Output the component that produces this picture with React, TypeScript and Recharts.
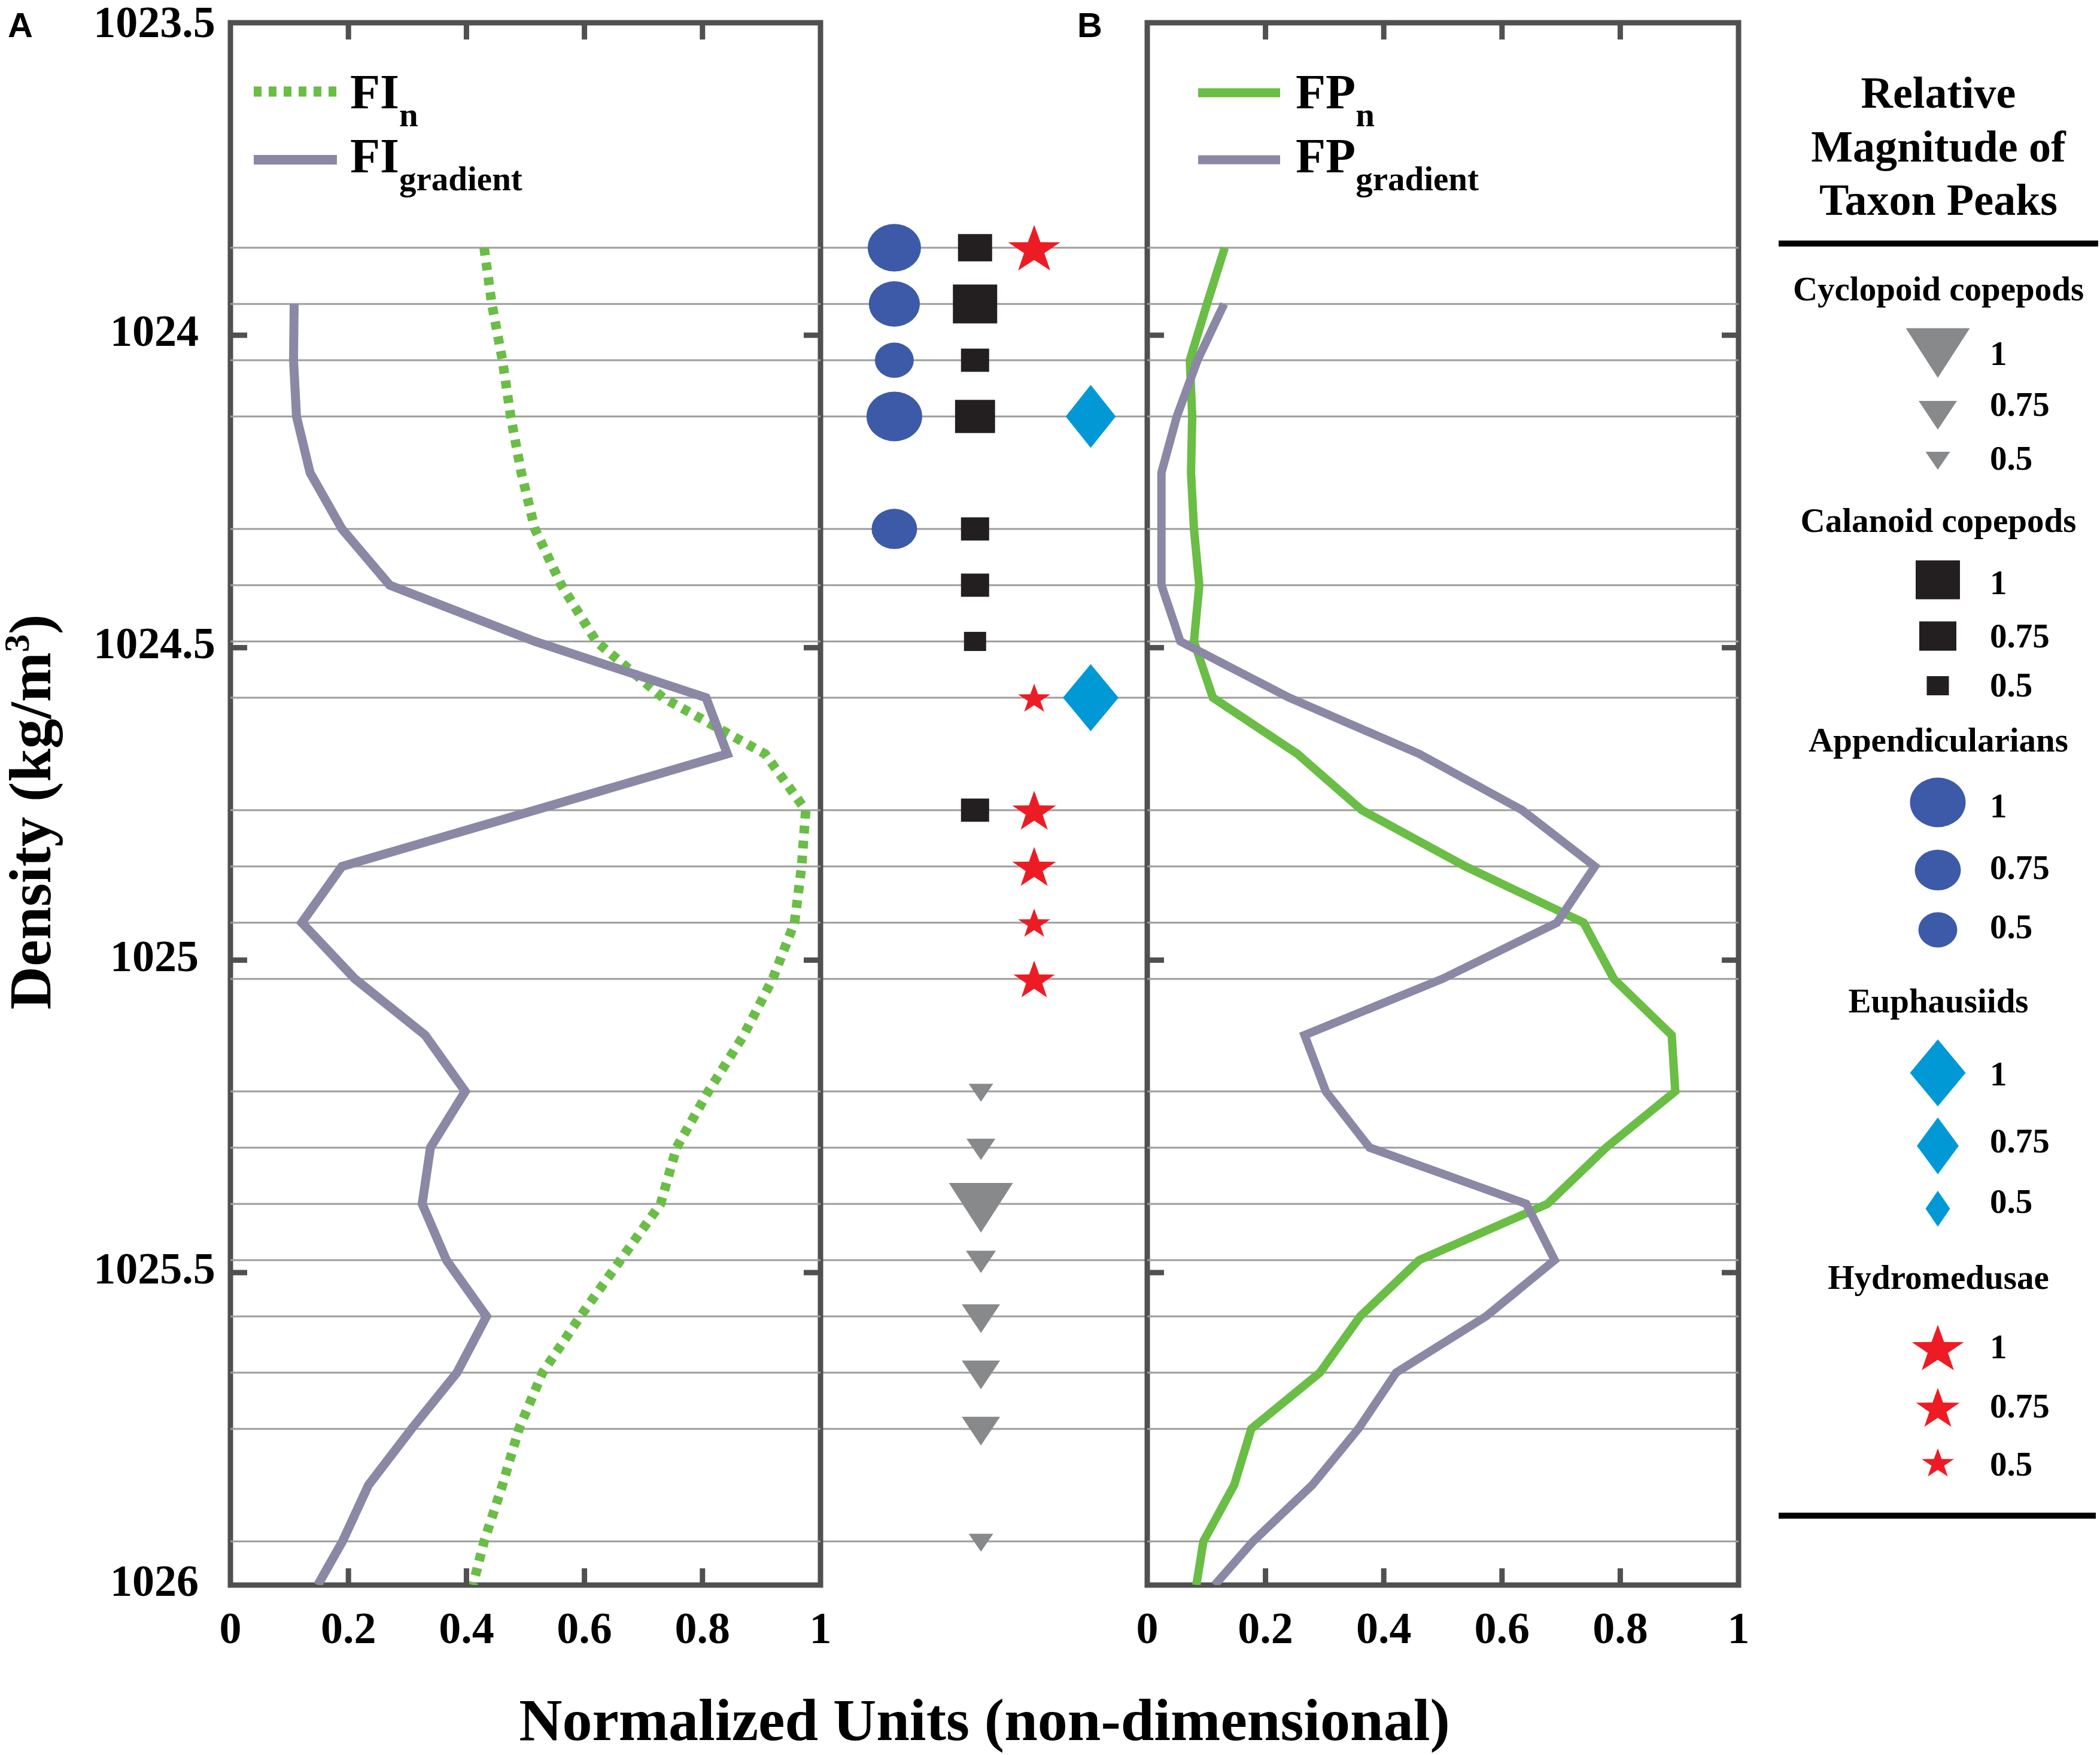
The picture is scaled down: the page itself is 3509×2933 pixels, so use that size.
import React from 'react';
import { ScatterChart, Scatter, XAxis, YAxis, ReferenceLine, ReferenceArea } from 'recharts';

// ---- data ----
const X_TICKS = [0, 0.2, 0.4, 0.6, 0.8, 1];
const Y_TICKS = [1023.5, 1024, 1024.5, 1025, 1025.5, 1026];
const Y_DOMAIN = [1023.5, 1026];
const LEGEND_MAGNITUDES = [1, 0.75, 0.5];

const FI_N = [
  { density: 1023.86, value: 0.43 }, { density: 1023.95, value: 0.443 }, { density: 1024.04, value: 0.461 },
  { density: 1024.13, value: 0.475 }, { density: 1024.22, value: 0.493 }, { density: 1024.31, value: 0.516 },
  { density: 1024.4, value: 0.561 }, { density: 1024.49, value: 0.62 }, { density: 1024.58, value: 0.733 },
  { density: 1024.67, value: 0.906 }, { density: 1024.76, value: 0.975 }, { density: 1024.85, value: 0.968 },
  { density: 1024.94, value: 0.956 }, { density: 1025.03, value: 0.919 }, { density: 1025.12, value: 0.87 },
  { density: 1025.21, value: 0.81 }, { density: 1025.3, value: 0.756 }, { density: 1025.39, value: 0.729 },
  { density: 1025.48, value: 0.661 }, { density: 1025.57, value: 0.593 }, { density: 1025.66, value: 0.529 },
  { density: 1025.75, value: 0.489 }, { density: 1025.84, value: 0.461 }, { density: 1025.93, value: 0.43 },
  { density: 1026.0, value: 0.411 },
];

const FI_GRADIENT = [
  { density: 1023.95, value: 0.108 }, { density: 1024.04, value: 0.107 }, { density: 1024.13, value: 0.112 },
  { density: 1024.22, value: 0.135 }, { density: 1024.31, value: 0.189 }, { density: 1024.4, value: 0.27 },
  { density: 1024.49, value: 0.516 }, { density: 1024.58, value: 0.806 }, { density: 1024.67, value: 0.842 },
  { density: 1024.76, value: 0.516 }, { density: 1024.85, value: 0.189 }, { density: 1024.94, value: 0.121 },
  { density: 1025.03, value: 0.211 }, { density: 1025.12, value: 0.33 }, { density: 1025.21, value: 0.398 },
  { density: 1025.3, value: 0.339 }, { density: 1025.39, value: 0.325 }, { density: 1025.48, value: 0.366 },
  { density: 1025.57, value: 0.434 }, { density: 1025.66, value: 0.384 }, { density: 1025.75, value: 0.307 },
  { density: 1025.84, value: 0.234 }, { density: 1025.93, value: 0.19 }, { density: 1026.0, value: 0.148 },
];

const FP_N = [
  { density: 1023.86, value: 0.131 }, { density: 1023.95, value: 0.101 }, { density: 1024.04, value: 0.072 },
  { density: 1024.13, value: 0.076 }, { density: 1024.22, value: 0.074 }, { density: 1024.31, value: 0.079 },
  { density: 1024.4, value: 0.088 }, { density: 1024.49, value: 0.079 }, { density: 1024.58, value: 0.111 },
  { density: 1024.67, value: 0.254 }, { density: 1024.76, value: 0.363 }, { density: 1024.85, value: 0.538 },
  { density: 1024.94, value: 0.738 }, { density: 1025.03, value: 0.789 }, { density: 1025.12, value: 0.887 },
  { density: 1025.21, value: 0.893 }, { density: 1025.3, value: 0.776 }, { density: 1025.39, value: 0.677 },
  { density: 1025.48, value: 0.46 }, { density: 1025.57, value: 0.36 }, { density: 1025.66, value: 0.292 },
  { density: 1025.75, value: 0.176 }, { density: 1025.84, value: 0.147 }, { density: 1025.93, value: 0.095 },
  { density: 1026.0, value: 0.083 },
];

const FP_GRADIENT = [
  { density: 1023.95, value: 0.13 }, { density: 1024.04, value: 0.085 }, { density: 1024.13, value: 0.05 },
  { density: 1024.22, value: 0.024 }, { density: 1024.31, value: 0.024 }, { density: 1024.4, value: 0.024 },
  { density: 1024.49, value: 0.056 }, { density: 1024.58, value: 0.24 }, { density: 1024.67, value: 0.46 },
  { density: 1024.76, value: 0.634 }, { density: 1024.85, value: 0.757 }, { density: 1024.94, value: 0.693 },
  { density: 1025.03, value: 0.499 }, { density: 1025.12, value: 0.266 }, { density: 1025.21, value: 0.302 },
  { density: 1025.3, value: 0.376 }, { density: 1025.39, value: 0.641 }, { density: 1025.48, value: 0.689 },
  { density: 1025.57, value: 0.573 }, { density: 1025.66, value: 0.421 }, { density: 1025.75, value: 0.357 },
  { density: 1025.84, value: 0.279 }, { density: 1025.93, value: 0.179 }, { density: 1026.0, value: 0.114 },
];

// taxon peaks: density and relative magnitude
const CYCLOPOID_PEAKS = [
  { density: 1025.21, magnitude: 0.5 }, { density: 1025.3, magnitude: 0.58 }, { density: 1025.39, magnitude: 1 },
  { density: 1025.48, magnitude: 0.6 }, { density: 1025.57, magnitude: 0.75 }, { density: 1025.66, magnitude: 0.75 },
  { density: 1025.75, magnitude: 0.75 }, { density: 1025.93, magnitude: 0.5 },
];
const CALANOID_PEAKS = [
  { density: 1023.86, magnitude: 0.7 }, { density: 1023.95, magnitude: 1 }, { density: 1024.04, magnitude: 0.6 },
  { density: 1024.13, magnitude: 0.85 }, { density: 1024.31, magnitude: 0.6 }, { density: 1024.4, magnitude: 0.6 },
  { density: 1024.49, magnitude: 0.5 }, { density: 1024.76, magnitude: 0.6 },
];
const APPENDICULARIAN_PEAKS = [
  { density: 1023.86, magnitude: 0.94 }, { density: 1023.95, magnitude: 0.88 }, { density: 1024.04, magnitude: 0.5 },
  { density: 1024.13, magnitude: 1 }, { density: 1024.31, magnitude: 0.73 },
];
const EUPHAUSIID_PEAKS = [
  { density: 1024.13, magnitude: 0.9 }, { density: 1024.58, magnitude: 1 },
];
const HYDROMEDUSAE_PEAKS = [
  { density: 1023.86, magnitude: 1 }, { density: 1024.58, magnitude: 0.5 }, { density: 1024.76, magnitude: 0.75 },
  { density: 1024.85, magnitude: 0.75 }, { density: 1024.94, magnitude: 0.5 }, { density: 1025.03, magnitude: 0.7 },
];

// ---- layout / style ----
const PAGE_W = 3509;
const PAGE_H = 2933;
const PLOT_TOP = 38;
const PLOT_BOTTOM = 2649;
const PANEL_A = { left: 385, right: 1371 };
const PANEL_B = { left: 1917, right: 2905 };
const X_AXIS_H = 100;
const Y_AXIS_W = 100;
const TICK_LEN = 28;
const FRAME = '#505050';
const GRID = '#9c9c9c';
const PURPLE = '#8b88a5';
const GREEN = '#6abd45';
const SERIF = "'Liberation Serif', 'Times New Roman', serif";
const SANS = "'Liberation Sans', Arial, sans-serif";

// sizes at magnitude 0.5 / 0.75 / 1 (w, h), taken from the key
const TAXA = [
  { key: 'cyclopoid', label: 'Cyclopoid copepods', peaks: CYCLOPOID_PEAKS, shape: 'triangle', color: '#88898b', column: 0.491,
    w: [41, 64, 107], h: [30, 48, 83] },
  { key: 'calanoid', label: 'Calanoid copepods', peaks: CALANOID_PEAKS, shape: 'square', color: '#231f20', column: 0.473,
    w: [37, 62, 74], h: [32, 49, 65] },
  { key: 'appendicularian', label: 'Appendicularians', peaks: APPENDICULARIAN_PEAKS, shape: 'ellipse', color: '#3d5aa9', column: 0.226,
    w: [65, 77, 93], h: [59, 68, 83] },
  { key: 'euphausiid', label: 'Euphausiids', peaks: EUPHAUSIID_PEAKS, shape: 'diamond', color: '#0099d6', column: 0.827,
    w: [41, 70, 93], h: [60, 95, 112] },
  { key: 'hydromedusae', label: 'Hydromedusae', peaks: HYDROMEDUSAE_PEAKS, shape: 'star', color: '#ed1c24', column: 0.654,
    w: [54, 73, 87], h: [47, 65, 76] },
];

const KEY_LAYOUT = {
  cyclopoid: { header: 502, items: [[590, 610], [694, 695], [770, 785]] },
  calanoid: { header: 889, items: [[969, 993], [1063, 1082], [1146, 1164]] },
  appendicularian: { header: 1256, items: [[1341, 1366], [1454, 1469], [1554, 1568]] },
  euphausiid: { header: 1692, items: [[1793, 1814], [1915, 1926], [2020, 2027]] },
  hydromedusae: { header: 2154, items: [[2252, 2270], [2352, 2369], [2444, 2466]] },
};

const PANEL_A_SERIES = [
  { key: 'fin', base: 'FI', sub: 'n', data: FI_N, color: GREEN, width: 16, dash: '13 12' },
  { key: 'figrad', base: 'FI', sub: 'gradient', data: FI_GRADIENT, color: PURPLE, width: 15 },
];
const PANEL_B_SERIES = [
  { key: 'fpn', base: 'FP', sub: 'n', data: FP_N, color: GREEN, width: 14 },
  { key: 'fpgrad', base: 'FP', sub: 'gradient', data: FP_GRADIENT, color: PURPLE, width: 14 },
];

const GRID_DENSITIES = Array.from(
  new Set(TAXA.flatMap((t) => t.peaks.map((p) => p.density)))
).sort((a, b) => a - b);

function sizeAt(arr, m) {
  if (m <= 0.75) return arr[0] + (arr[1] - arr[0]) * ((m - 0.5) / 0.25);
  return arr[1] + (arr[2] - arr[1]) * ((m - 0.75) / 0.25);
}

function TaxonMark({ cx, cy, taxon, magnitude, drop = 0 }) {
  const w = sizeAt(taxon.w, magnitude);
  const h = sizeAt(taxon.h, magnitude);
  const y = cy + drop * h;
  const fill = taxon.color;
  if (taxon.shape === 'triangle') {
    const top = y - h / 2;
    return <polygon points={`${cx - w / 2},${top} ${cx + w / 2},${top} ${cx},${top + h}`} fill={fill} />;
  }
  if (taxon.shape === 'square') return <rect x={cx - w / 2} y={y - h / 2} width={w} height={h} fill={fill} />;
  if (taxon.shape === 'ellipse') return <ellipse cx={cx} cy={y} rx={w / 2} ry={h / 2} fill={fill} />;
  if (taxon.shape === 'diamond') {
    return <polygon points={`${cx},${y - h / 2} ${cx + w / 2},${y} ${cx},${y + h / 2} ${cx - w / 2},${y}`} fill={fill} />;
  }
  const sx = w / 1.902;
  const sy = h / 1.809;
  const centerY = y - h / 2 + sy;
  const pts = [];
  for (let i = 0; i < 10; i++) {
    const a = ((-90 + i * 36) * Math.PI) / 180;
    const r = i % 2 === 0 ? 1 : 0.39;
    pts.push(`${cx + r * Math.cos(a) * sx},${centerY + r * Math.sin(a) * sy}`);
  }
  return <polygon points={pts.join(' ')} fill={fill} />;
}

function EmptyShape() {
  return <g />;
}

function makeXTick(plot) {
  return function XTick({ x, payload }) {
    const v = payload.value;
    const inner = v > 0 && v < 1;
    return (
      <g>
        <text x={x} y={PLOT_BOTTOM + 97} textAnchor="middle" fontFamily={SERIF} fontWeight="bold" fontSize={74} fill="#000">
          {String(v)}
        </text>
        {inner && <line x1={x} x2={x} y1={PLOT_BOTTOM} y2={PLOT_BOTTOM - TICK_LEN} stroke={FRAME} strokeWidth={9} />}
        {inner && <line x1={x} x2={x} y1={PLOT_TOP} y2={PLOT_TOP + TICK_LEN} stroke={FRAME} strokeWidth={9} />}
      </g>
    );
  };
}

function makeYTick(plot, showLabels) {
  return function YTick({ y, payload }) {
    const v = payload.value;
    const inner = v > Y_DOMAIN[0] && v < Y_DOMAIN[1];
    // the top label sits against the page edge, keep it just inside
    const base = v === Y_DOMAIN[0] ? y + 24 : y + 18;
    return (
      <g>
        {showLabels && (
          <text x={plot.left - 127} y={base} textAnchor="middle" fontFamily={SERIF} fontWeight="bold" fontSize={74} fill="#000">
            {String(v)}
          </text>
        )}
        {inner && <line x1={plot.left} x2={plot.left + TICK_LEN} y1={y} y2={y} stroke={FRAME} strokeWidth={9} />}
        {inner && <line x1={plot.right} x2={plot.right - TICK_LEN} y1={y} y2={y} stroke={FRAME} strokeWidth={9} />}
      </g>
    );
  };
}

function LinePanel({ plot, series, showYLabels }) {
  return (
    <div style={{ position: 'absolute', left: 0, top: 0 }}>
      <ScatterChart
        width={PAGE_W}
        height={PAGE_H}
        margin={{ top: PLOT_TOP, bottom: PAGE_H - PLOT_BOTTOM - X_AXIS_H, left: plot.left - Y_AXIS_W, right: PAGE_W - plot.right }}
      >
        <XAxis type="number" dataKey="value" domain={[0, 1]} ticks={X_TICKS} interval={0} height={X_AXIS_H}
          axisLine={false} tickLine={false} tick={makeXTick(plot)} allowDataOverflow />
        <YAxis type="number" dataKey="density" domain={Y_DOMAIN} reversed ticks={Y_TICKS} interval={0} width={Y_AXIS_W}
          axisLine={false} tickLine={false} tick={makeYTick(plot, showYLabels)} allowDataOverflow />
        {GRID_DENSITIES.map((d) => (
          <ReferenceLine key={d} y={d} stroke={GRID} strokeWidth={3} />
        ))}
        {series.map((s) => (
          <Scatter
            key={s.key}
            name={s.key}
            data={s.data}
            fill={s.color}
            shape={EmptyShape}
            line={{ stroke: s.color, strokeWidth: s.width, strokeDasharray: s.dash, strokeLinejoin: 'miter' }}
            lineJointType="linear"
            isAnimationActive={false}
          />
        ))}
        <ReferenceArea x1={0} x2={1} y1={Y_DOMAIN[0]} y2={Y_DOMAIN[1]} fill="none" fillOpacity={0}
          stroke={FRAME} strokeWidth={9} ifOverflow="visible" />
      </ScatterChart>
    </div>
  );
}

function PeaksPanel() {
  const left = PANEL_A.right;
  const right = PANEL_B.left;
  return (
    <div style={{ position: 'absolute', left: 0, top: 0 }}>
      <ScatterChart
        width={PAGE_W}
        height={PAGE_H}
        margin={{ top: PLOT_TOP, bottom: PAGE_H - PLOT_BOTTOM, left, right: PAGE_W - right }}
      >
        <XAxis type="number" dataKey="column" domain={[0, 1]} hide />
        <YAxis type="number" dataKey="density" domain={Y_DOMAIN} reversed hide />
        {GRID_DENSITIES.map((d) => (
          <ReferenceLine key={d} y={d} stroke={GRID} strokeWidth={3} />
        ))}
        {TAXA.map((t) => (
          <Scatter
            key={t.key}
            name={t.label}
            data={t.peaks.map((p) => ({ column: t.column, density: p.density, magnitude: p.magnitude }))}
            fill={t.color}
            shape={(props) => (
              <TaxonMark cx={props.cx} cy={props.cy} taxon={t} magnitude={props.payload.magnitude}
                drop={t.shape === 'triangle' ? 0.08 : 0} />
            )}
            isAnimationActive={false}
          />
        ))}
      </ScatterChart>
    </div>
  );
}

function SeriesKey({ series, x0, x1, textX, rows }) {
  return (
    <g>
      {series.map((s, i) => (
        <g key={s.key}>
          <line x1={x0} x2={x1} y1={rows[i].line} y2={rows[i].line} stroke={s.color} strokeWidth={s.width + 1}
            strokeDasharray={s.dash} />
          <text x={textX} y={rows[i].base} fontFamily={SERIF} fontWeight="bold" fontSize={82} fill="#000">
            {s.base}
            <tspan fontSize={57} dy={30}>{s.sub}</tspan>
          </text>
        </g>
      ))}
    </g>
  );
}

function Annotations() {
  const keyX = 3239;
  return (
    <svg width={PAGE_W} height={PAGE_H} style={{ position: 'absolute', left: 0, top: 0, pointerEvents: 'none' }}>
      <text x={13} y={62} fontFamily={SANS} fontWeight="bold" fontSize={58}>A</text>
      <text x={1800} y={62} fontFamily={SANS} fontWeight="bold" fontSize={58}>B</text>

      <text transform="translate(84,1357) rotate(-90)" textAnchor="middle" fontFamily={SERIF} fontWeight="bold" fontSize={100}>
        Density (kg/m<tspan fontSize={60} dy={-36}>3</tspan><tspan dy={36}>)</tspan>
      </text>
      <text x={1645} y={2908} textAnchor="middle" fontFamily={SERIF} fontWeight="bold" fontSize={100}>
        Normalized Units (non-dimensional)
      </text>

      <SeriesKey series={PANEL_A_SERIES} x0={424} x1={563} textX={585}
        rows={[{ line: 153, base: 181 }, { line: 267, base: 288 }]} />
      <SeriesKey series={PANEL_B_SERIES} x0={2002} x1={2139} textX={2165}
        rows={[{ line: 155, base: 181 }, { line: 267, base: 288 }]} />

      <g fontFamily={SERIF} fontWeight="bold" fill="#000">
        <text x={keyX} y={180} textAnchor="middle" fontSize={74}>Relative</text>
        <text x={keyX} y={270} textAnchor="middle" fontSize={74}>Magnitude of</text>
        <text x={keyX} y={359} textAnchor="middle" fontSize={74}>Taxon Peaks</text>
        <line x1={2972} x2={3506} y1={407} y2={407} stroke="#000" strokeWidth={10} />
        {TAXA.map((t) => {
          const lay = KEY_LAYOUT[t.key];
          return (
            <g key={t.key}>
              <text x={keyX} y={lay.header} textAnchor="middle" fontSize={57}>{t.label}</text>
              {LEGEND_MAGNITUDES.map((m, i) => (
                <g key={m}>
                  <TaxonMark cx={3238} cy={lay.items[i][0]} taxon={t} magnitude={m} />
                  <text x={3325} y={lay.items[i][1]} fontSize={57}>{String(m)}</text>
                </g>
              ))}
            </g>
          );
        })}
        <line x1={2972} x2={3502} y1={2533} y2={2533} stroke="#000" strokeWidth={10} />
      </g>
    </svg>
  );
}

export default function App() {
  return (
    <div style={{ position: 'relative', width: PAGE_W, height: PAGE_H, background: '#fff', overflow: 'hidden' }}>
      <style>{'body{margin:0}'}</style>
      <PeaksPanel />
      <LinePanel plot={PANEL_A} series={PANEL_A_SERIES} showYLabels />
      <LinePanel plot={PANEL_B} series={PANEL_B_SERIES} showYLabels={false} />
      <Annotations />
    </div>
  );
}
